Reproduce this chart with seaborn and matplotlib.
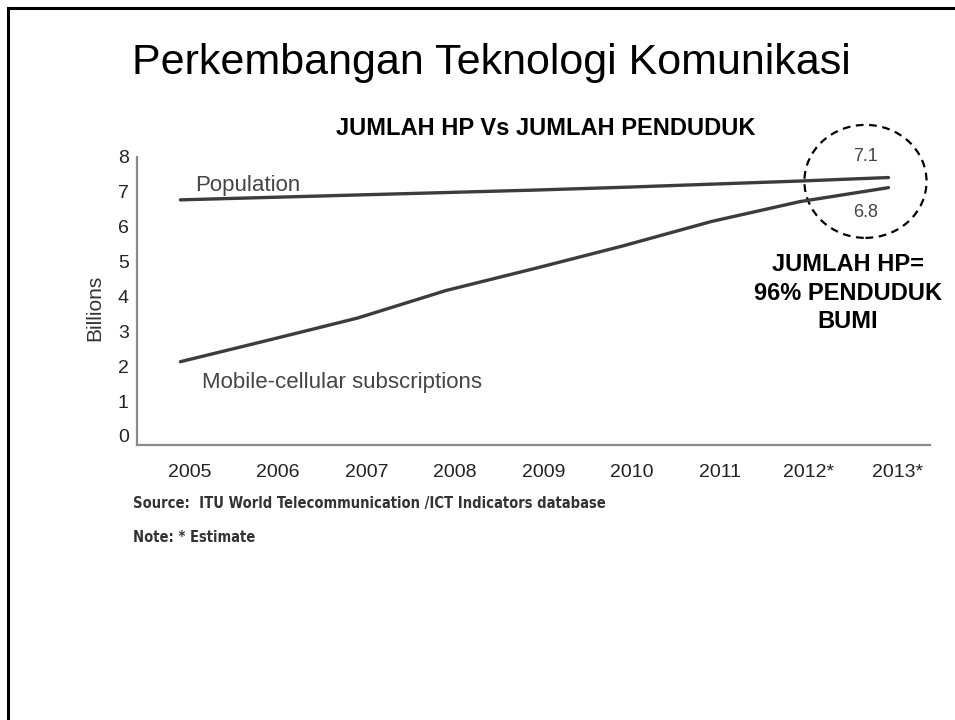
import pandas as pd
import matplotlib.pyplot as plt
import matplotlib.transforms as mtransforms
from matplotlib.patches import Ellipse, Rectangle
import seaborn as sns

# data (billions)
years = [2005, 2006, 2007, 2008, 2009, 2010, 2011, 2012, 2013]
year_labels = ['2005', '2006', '2007', '2008', '2009', '2010', '2011', '2012*', '2013*']
population = [6.77, 6.84, 6.91, 6.98, 7.05, 7.13, 7.22, 7.31, 7.41]
mobile = [2.13, 2.75, 3.38, 4.17, 4.80, 5.45, 6.15, 6.72, 7.12]
end_labels = ['7.1', '6.8']
y_ticks = [0, 1, 2, 3, 4, 5, 6, 7, 8]

sns.set_style('white')
plt.rcParams['font.family'] = ['Liberation Sans', 'DejaVu Sans']

df = pd.DataFrame({
    'year': years * 2,
    'value': population + mobile,
    'series': ['Population'] * len(years) + ['Mobile-cellular subscriptions'] * len(years),
})

fig = plt.figure(figsize=(9.55, 7.2), dpi=100)
ax = fig.add_axes([0.1435, 0.382, 0.8304, 0.40])

sns.lineplot(data=df, x='year', y='value', hue='series',
             palette={'Population': '#3c3c3c', 'Mobile-cellular subscriptions': '#3c3c3c'},
             linewidth=2.4, legend=False, ax=ax)

ax.set_xlim(2004.51, 2013.47)
ax.set_ylim(-0.258, 8)
ax.set_xlabel('')
ax.set_ylabel('')
ax.set_yticks(y_ticks)
ax.set_yticklabels([str(t) for t in y_ticks], fontsize=14, color='#222222')
ax.set_xticks(years)
ax.set_xticklabels(year_labels, fontsize=14, color='#222222')
ax.tick_params(axis='both', length=0)
ax.tick_params(axis='y', pad=6)
ax.tick_params(axis='x', pad=14)
offset = mtransforms.ScaledTranslation(9 / 100, 0, fig.dpi_scale_trans)
for lab in ax.get_xticklabels():
    lab.set_transform(lab.get_transform() + offset)

for side in ['top', 'right']:
    ax.spines[side].set_visible(False)
for side in ['left', 'bottom']:
    ax.spines[side].set_color('#8a8a8a')
    ax.spines[side].set_linewidth(1.6)

ax.text(-0.053, 0.476, 'Billions', transform=ax.transAxes, rotation=90,
        ha='center', va='center', fontsize=15, color='#333333')

# series labels
ax.text(2005.17, 7.03, 'Population', fontsize=16, color='#444444', va='baseline')
ax.text(2005.24, 1.38, 'Mobile-cellular subscriptions', fontsize=16, color='#444444', va='baseline')

# end values + dashed circle
ax.text(2012.74, 8.0, end_labels[0], fontsize=13, color='#444444', ha='center', va='center', clip_on=False)
ax.text(2012.74, 6.42, end_labels[1], fontsize=13, color='#444444', ha='center', va='center', clip_on=False)
circle = Ellipse((2012.74, 7.30), 1.38, 3.24, fill=False, edgecolor='black',
                 linewidth=1.6, linestyle=(0, (3.5, 2.5)), clip_on=False)
ax.add_patch(circle)

# slide texts
fig.text(0.515, 1 - 74 / 720, 'Perkembangan Teknologi Komunikasi', fontsize=31,
         ha='center', va='baseline', color='black')
fig.text(0.571, 1 - 135 / 720, 'JUMLAH HP Vs JUMLAH PENDUDUK', fontsize=17,
         fontweight='bold', ha='center', va='baseline', color='black')
fig.text(0.888, 1 - 293 / 720, 'JUMLAH HP=\n96% PENDUDUK\nBUMI', fontsize=17,
         fontweight='bold', ha='center', va='center', multialignment='center',
         linespacing=1.32, color='black')

narrow = ['Liberation Sans Narrow', 'DejaVu Sans']
fig.text(133 / 955, 1 - 508 / 720, 'Source:  ITU World Telecommunication /ICT Indicators database',
         fontsize=10.5, fontweight='bold', family=narrow, fontstretch='condensed',
         color='#333333', ha='left', va='baseline')
fig.text(133 / 955, 1 - 542 / 720, 'Note: * Estimate',
         fontsize=10.5, fontweight='bold', family=narrow, fontstretch='condensed',
         color='#333333', ha='left', va='baseline')

# slide border (only top and left edges fall inside the picture)
fig.add_artist(Rectangle((8 / 955, -0.1), 1.5, 1.1 - 8 / 720, transform=fig.transFigure,
                         fill=False, edgecolor='black', linewidth=2.2))

fig.savefig('out.png', dpi=100)
